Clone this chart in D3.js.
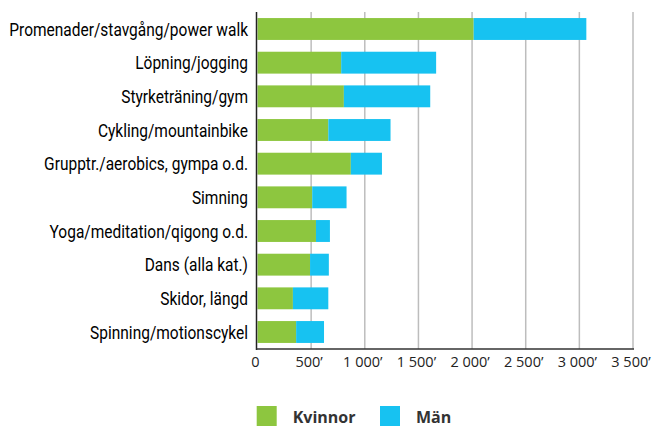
<!doctype html>
<html lang="sv">
<head>
<meta charset="UTF-8">
<title>Motion</title>
<script src="https://d3js.org/d3.v7.min.js"></script>
<style>
  body { margin: 0; background: #fff; }
</style>
</head>
<body>
<div id="chart-area"></div>
<script>
const W = 655;
const H = 426;

const categories = [
    'Promenader/stavgång/power walk',
    'Löpning/jogging',
    'Styrketräning/gym',
    'Cykling/mountainbike',
    'Grupptr./aerobics, gympa o.d.',
    'Simning',
    'Yoga/meditation/qigong o.d.',
    'Dans (alla kat.)',
    'Skidor, längd',
    'Spinning/motionscykel'
];
const kvinnor = [2015, 780, 805, 660, 870, 510, 545, 490, 330, 360];
const man     = [1050, 885, 805, 580, 290, 320, 130, 175, 330, 260];
const ticks   = [0, 500, 1000, 1500, 2000, 2500, 3000, 3500];
const seriesNames  = ['Kvinnor', 'Män'];
const seriesColors = ['#8dc63f', '#17c2f1'];

const pLeft = 257.5, pRight = 633, pTop = 12, pBottom = 349;

const svg = d3.select('#chart-area')
    .append('svg')
    .attr('width', W)
    .attr('height', H);

const x = d3.scaleLinear().domain([0, 3500]).range([pLeft, pRight]);
const y = d3.scaleBand()
    .domain(categories)
    .range([pTop, pBottom])
    .paddingInner(0.35)
    .paddingOuter(0.18);

// gridlines
svg.append('g')
    .selectAll('line')
    .data(ticks.slice(1))
    .enter()
    .append('line')
        .attr('x1', d => x(d))
        .attr('x2', d => x(d))
        .attr('y1', pTop)
        .attr('y2', pBottom)
        .attr('stroke', '#bdbdbd')
        .attr('stroke-width', 1.5);

const rows = categories.map((c, i) => ({ c, k: kvinnor[i], m: man[i] }));

svg.append('g')
    .selectAll('rect')
    .data(rows)
    .enter()
    .append('rect')
        .attr('x', x(0))
        .attr('y', d => y(d.c))
        .attr('width', d => x(d.k) - x(0))
        .attr('height', y.bandwidth())
        .attr('fill', seriesColors[0]);

svg.append('g')
    .selectAll('rect')
    .data(rows)
    .enter()
    .append('rect')
        .attr('x', d => x(d.k))
        .attr('y', d => y(d.c))
        .attr('width', d => x(d.k + d.m) - x(d.k))
        .attr('height', y.bandwidth())
        .attr('fill', seriesColors[1]);

// axis lines
svg.append('line')
    .attr('x1', pLeft - 1).attr('x2', pLeft - 1)
    .attr('y1', pTop).attr('y2', pBottom + 1)
    .attr('stroke', '#222').attr('stroke-width', 1.5);
svg.append('line')
    .attr('x1', pLeft - 1).attr('x2', pRight + 1)
    .attr('y1', pBottom).attr('y2', pBottom)
    .attr('stroke', '#333').attr('stroke-width', 1.5);

// x tick labels
const fmt = d => d === 0 ? '0' : d3.format(',')(d).replace(',', ' ') + '\u2019';
svg.append('g')
    .selectAll('text')
    .data(ticks)
    .enter()
    .append('text')
        .attr('x', d => x(d) - 2)
        .attr('y', 367)
        .attr('text-anchor', 'middle')
        .attr('font-family', '"Open Sans", Lato, sans-serif')
        .attr('font-size', 14.5)
        .attr('fill', '#222')
        .text(fmt);

// category labels: condensed look by squeezing a normal face horizontally
const labelRight = 248;
const labels = svg.append('g');
labels.selectAll('text')
    .data(categories)
    .enter()
    .append('text')
        .attr('y', d => y(d) + y.bandwidth() / 2)
        .attr('dy', '0.36em')
        .attr('text-anchor', 'end')
        .attr('font-family', 'Roboto, "Noto Sans", sans-serif')
        .attr('font-size', 18.5)
        .attr('fill', '#000')
        .text(d => d);
let widest = 0;
labels.selectAll('text').each(function () {
    widest = Math.max(widest, this.getComputedTextLength());
});
const sx = 239 / widest;
labels.attr('transform', `translate(${labelRight},0) scale(${sx},1)`);

// legend
const legX = [256.7, 380];
const leg = svg.append('g');
seriesNames.forEach((n, i) => {
    leg.append('rect')
        .attr('x', legX[i]).attr('y', 406)
        .attr('width', 20).attr('height', 20)
        .attr('fill', seriesColors[i]);
    leg.append('text')
        .attr('x', legX[i] + 36)
        .attr('y', 423)
        .attr('font-family', '"Open Sans", Lato, sans-serif')
        .attr('font-weight', 'bold')
        .attr('font-size', 16)
        .attr('fill', '#333')
        .text(n);
});
</script>
</body>
</html>
